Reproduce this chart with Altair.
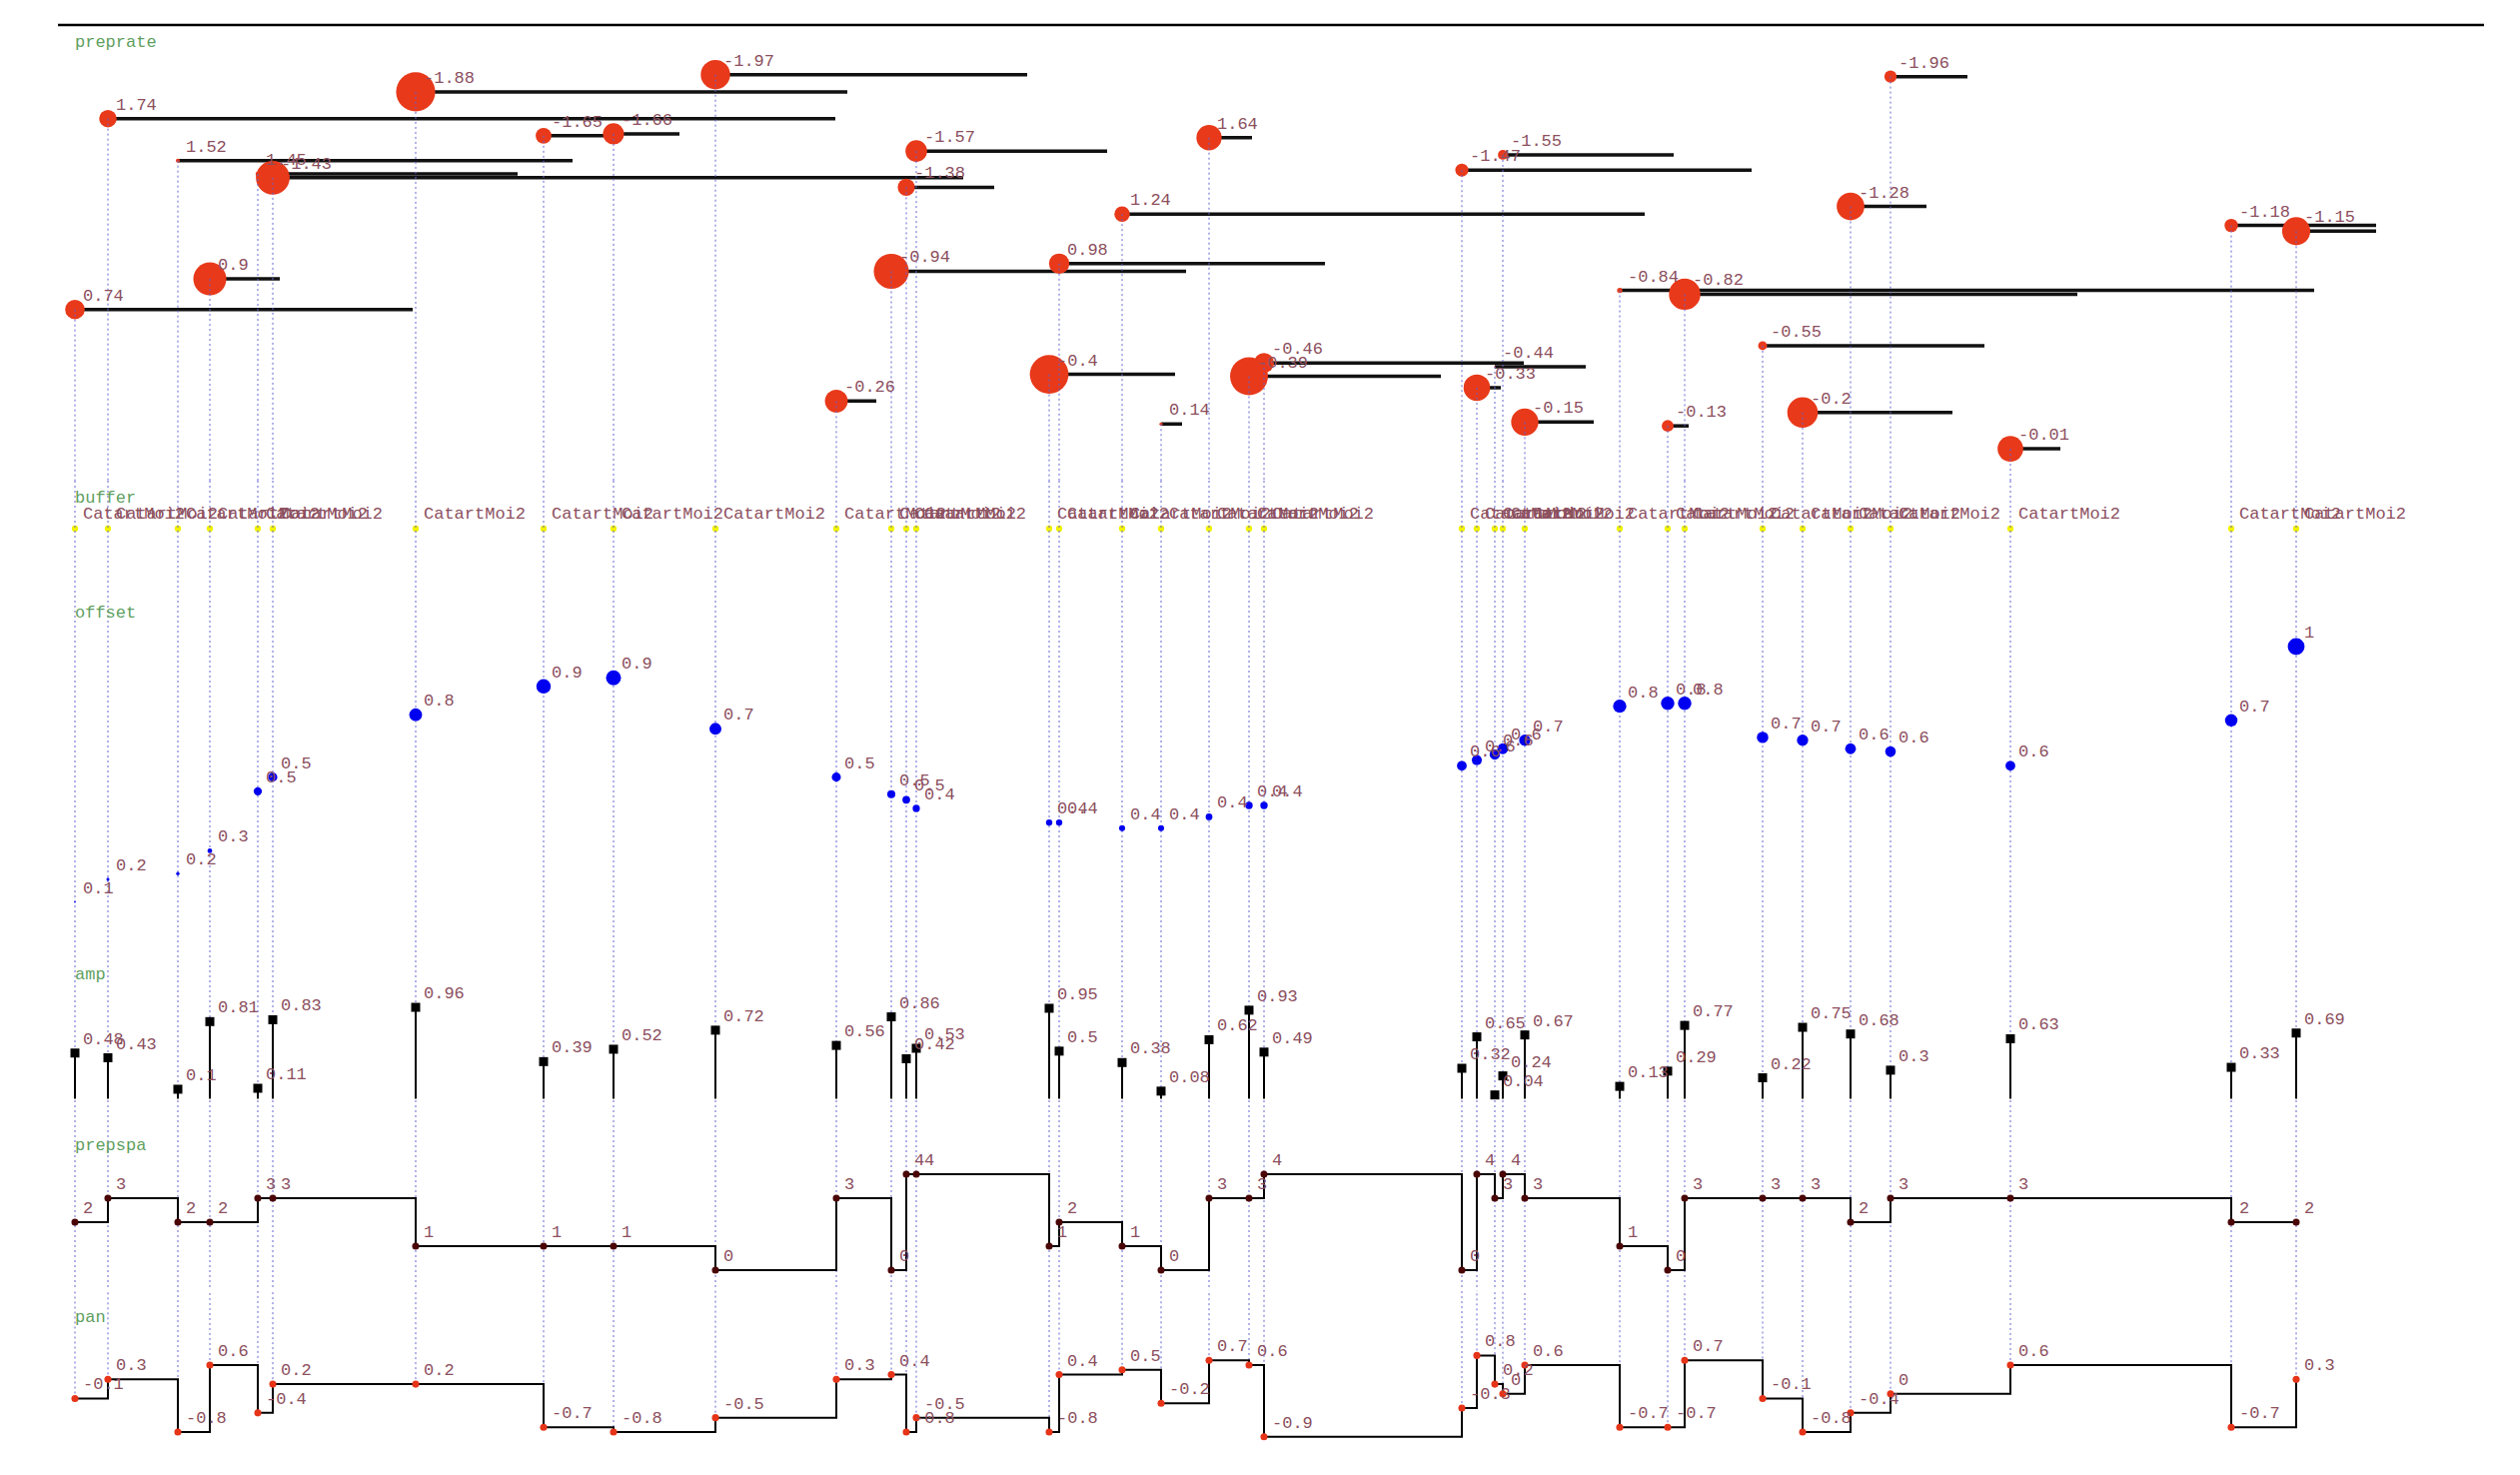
import altair as alt
import pandas as pd

# ---- data (onset / duration in ms) ----
onset = [0, 330, 1030, 1350, 1830, 1980, 3410, 4690, 5390, 6410, 7620, 8170,
         8320, 8420, 9750, 9850, 10480, 10870, 11350, 11750, 11900, 13880, 14030, 14210,
         14290, 14510, 15460, 15940, 16110, 16890, 17290, 17770, 18170, 19370, 21580, 22230]
duration = [3380, 7280, 3950, 700, 2600, 6910, 4320, 630, 660, 3120, 400, 2950,
            880, 1910, 1260, 2660, 5230, 210, 430, 1920, 2600, 2900, 240, 910,
            1710, 690, 6950, 210, 3930, 2220, 1500, 760, 770, 500, 1450, 800]
preprate = [0.74, 1.74, 1.52, 0.9, 1.45, -1.43, -1.88, -1.65, -1.66, -1.97, -0.26, -0.94,
            -1.38, -1.57, -0.4, 0.98, 1.24, 0.14, 1.64, -0.39, -0.46, -1.47, -0.33, -0.44,
            -1.55, -0.15, -0.84, -0.13, -0.82, -0.55, -0.2, -1.28, -1.96, -0.01, -1.18, -1.15]
buffer = ["CatartMoi2"] * 36
offset = [0.1, 0.18, 0.2, 0.28, 0.49, 0.54, 0.76, 0.86, 0.89, 0.71, 0.54, 0.48,
          0.46, 0.43, 0.38, 0.38, 0.36, 0.36, 0.4, 0.44, 0.44, 0.58, 0.6, 0.62,
          0.64, 0.67, 0.79, 0.8, 0.8, 0.68, 0.67, 0.64, 0.63, 0.58, 0.74, 1.0]
amp = [0.48, 0.43, 0.1, 0.81, 0.11, 0.83, 0.96, 0.39, 0.52, 0.72, 0.56, 0.86,
       0.42, 0.53, 0.95, 0.5, 0.38, 0.08, 0.62, 0.93, 0.49, 0.32, 0.65, 0.04,
       0.24, 0.67, 0.13, 0.29, 0.77, 0.22, 0.75, 0.68, 0.3, 0.63, 0.33, 0.69]
prepspa = [2, 3, 2, 2, 3, 3, 1, 1, 1, 0, 3, 0,
           4, 4, 1, 2, 1, 0, 3, 3, 4, 0, 4, 3,
           4, 3, 1, 0, 3, 3, 3, 2, 3, 3, 2, 2]
pan = [-0.1, 0.3, -0.8, 0.6, -0.4, 0.2, 0.2, -0.7, -0.8, -0.5, 0.3, 0.4,
       -0.8, -0.5, -0.8, 0.4, 0.5, -0.2, 0.7, 0.6, -0.9, -0.3, 0.8, 0.2,
       0.0, 0.6, -0.7, -0.7, 0.7, -0.1, -0.8, -0.4, 0.0, 0.6, -0.7, 0.3]
row_names = ["preprate", "buffer", "offset", "amp", "prepspa", "pan"]

df = pd.DataFrame(dict(onset=onset, duration=duration, preprate=preprate, buffer=buffer,
                       offset=offset, amp=amp, prepspa=prepspa, pan=pan))

W = 2428
FONT = "Liberation Mono"
FS = 17
LBL = "#8c4f5e"
TCOL = "#5f9f5f"
DOT = "#6464d2"

xs = alt.Scale(domain=[-170, 24110], nice=False, zero=False)
X = alt.X("onset:Q", scale=xs, axis=None)
base = alt.Chart(df)


def title(name, y):
    return alt.Chart(pd.DataFrame({"t": [0], "name": [name]})).mark_text(
        align="left", baseline="middle", font=FONT, fontSize=FS, color=TCOL
    ).encode(x=alt.X("t:Q", scale=xs, axis=None), y=alt.value(y), text="name:N")


def labels(b, Y, field, dy=-14):
    return b.mark_text(align="left", baseline="middle", dx=8, dy=dy, font=FONT,
                       fontSize=FS, color=LBL).encode(x=X, y=Y, text=field)


def dotted_full(h):
    return base.mark_rule(color=DOT, strokeDash=[2, 3], strokeWidth=1).encode(
        x=X, y=alt.value(0), y2=alt.value(h))


# ---- preprate ----
H1 = 456
b1 = base.transform_calculate(ppa="abs(datum.preprate)", end="datum.onset + datum.duration",
                              lbl="'' + datum.preprate")
Y1 = alt.Y("ppa:Q", scale=alt.Scale(domain=[0, 2], range=[426, 44]), axis=None)
topline = alt.Chart(pd.DataFrame({"t": [0]})).mark_rule(color="black", strokeWidth=2.5).encode(
    x=alt.value(0), x2=alt.value(W), y=alt.value(0))
durs = b1.mark_rule(color="#111111", strokeWidth=3.5).encode(x=X, x2="end:Q", y=Y1)
circ1 = b1.mark_circle(color="#e8391a", opacity=1).encode(
    x=X, y=Y1,
    size=alt.Size("amp:Q", scale=alt.Scale(type="pow", exponent=2, domain=[0, 1], range=[0, 1662]),
                  legend=None))
dots1 = b1.mark_rule(color=DOT, strokeDash=[2, 3], strokeWidth=1).encode(x=X, y=Y1, y2=alt.value(H1))
p1 = alt.layer(topline, durs, circ1, dots1, labels(b1, Y1, "lbl:N"), title(row_names[0], 17)
               ).properties(width=W, height=H1)

# ---- buffer ----
H2 = 100
pts2 = base.mark_circle(color="#f2f200", size=40, opacity=1).encode(x=X, y=alt.value(48))
p2 = alt.layer(pts2, dotted_full(H2), labels(base, alt.value(48), "buffer:N", dy=-15),
               title(row_names[1], 17)).properties(width=W, height=H2)

# ---- offset ----
H3 = 360
b3 = base.transform_calculate(lbl="'' + round(datum.offset*10)/10")
Y3 = alt.Y("offset:Q", scale=alt.Scale(domain=[0, 1], range=[350, 66]), axis=None)
pts3 = b3.mark_circle(color="#0000f0", opacity=1).encode(
    x=X, y=Y3,
    size=alt.Size("offset:Q", scale=alt.Scale(type="pow", exponent=2, domain=[0, 1], range=[0, 284]),
                  legend=None))
p3 = alt.layer(dotted_full(H3), pts3, labels(b3, Y3, "lbl:N"), title(row_names[2], 32)
               ).properties(width=W, height=H3)

# ---- amp ----
H4 = 180
b4 = base.transform_calculate(lbl="'' + datum.amp")
Y4 = alt.Y("amp:Q", scale=alt.Scale(domain=[0, 1], range=[158.5, 63.2]), axis=None)
stems = b4.mark_rule(color="black", strokeWidth=2).encode(x=X, y=Y4, y2=alt.datum(0))
sq = b4.mark_square(size=81, color="black", opacity=1).encode(x=X, y=Y4)
p4 = alt.layer(dotted_full(H4), stems, sq, labels(b4, Y4, "lbl:N"), title(row_names[3], 34)
               ).properties(width=W, height=H4)

# ---- prepspa ----
H5 = 170
b5 = base.transform_calculate(lbl="'' + datum.prepspa")
Y5 = alt.Y("prepspa:Q", scale=alt.Scale(domain=[0, 4], range=[150, 54]), axis=None)
line5 = b5.mark_line(interpolate="step-after", color="black", strokeWidth=2).encode(x=X, y=Y5)
pts5 = b5.mark_circle(size=50, color="#4a0606", opacity=1).encode(x=X, y=Y5)
p5 = alt.layer(dotted_full(H5), line5, pts5, labels(b5, Y5, "lbl:N"), title(row_names[4], 25)
               ).properties(width=W, height=H5)

# ---- pan ----
H6 = 160
b6 = base.transform_calculate(lbl="'' + datum.pan")
Y6 = alt.Y("pan:Q", scale=alt.Scale(domain=[-1, 1], range=[151.6, 55.8]), axis=None)
dots6 = b6.mark_rule(color=DOT, strokeDash=[2, 3], strokeWidth=1).encode(x=X, y=Y6, y2=alt.value(0))
line6 = b6.mark_line(interpolate="step-after", color="black", strokeWidth=2).encode(x=X, y=Y6)
pts6 = b6.mark_circle(size=50, color="#e63419", opacity=1).encode(x=X, y=Y6)
p6 = alt.layer(dots6, line6, pts6, labels(b6, Y6, "lbl:N"), title(row_names[5], 27)
               ).properties(width=W, height=H6)

chart = alt.vconcat(p1, p2, p3, p4, p5, p6, spacing=0, bounds="flush").resolve_scale(
    x="shared", y="independent", size="independent"
).properties(
    padding={"left": 48, "top": 15, "right": 5, "bottom": 5}
).configure_view(stroke=None)

chart.save("out.html", embed_options={"renderer": "svg", "actions": False})
